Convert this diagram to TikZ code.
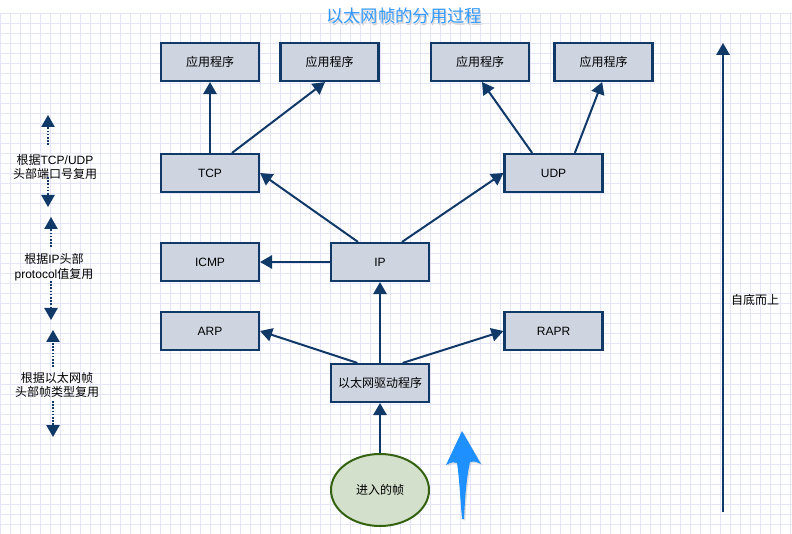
\documentclass[tikz,border=0pt]{standalone}
\usepackage{fontspec}
\setmainfont{Liberation Sans}
\newfontfamily\cjk{Noto Sans CJK SC}
\usetikzlibrary{arrows.meta,shadows,shapes.geometric}
\definecolor{boxline}{RGB}{16,57,104}
\definecolor{boxfill}{RGB}{206,213,224}
\definecolor{gridline}{RGB}{228,228,248}
\definecolor{framefill}{RGB}{211,224,203}
\definecolor{frameline}{RGB}{52,98,16}
\definecolor{titleblue}{RGB}{51,153,255}
\definecolor{bigblue}{RGB}{30,144,255}

\begin{document}
\begin{tikzpicture}[x=0.75pt,y=-0.75pt,
    layer/.style={draw=boxline,fill=boxfill,line width=1.6pt,minimum width=73.5pt,
      minimum height=28.5pt,inner sep=0pt,font=\fontsize{9}{11}\selectfont},
    up/.style={draw=boxline,line width=1.5pt,-{Triangle[width=10pt,length=9pt]}},
    hint/.style={draw=boxline,line width=1.2pt,dash pattern=on 1.2pt off 1.2pt,
      -{Triangle[width=10pt,length=9pt]}},
    note/.style={font=\fontsize{9}{11}\selectfont,align=center,inner sep=1pt}]
    \useasboundingbox (0,0) rectangle (792,534);
    \fill[white] (0,0) rectangle (792,534);

    % background grid
    \foreach \gx in {0,10,...,790}
      \draw[gridline,line width=0.75pt] (\gx,14) -- (\gx,534);
    \foreach \gy in {14,24,...,534}
      \draw[gridline,line width=0.75pt] (0,\gy) -- (792,\gy);

    \node[gray!35,font=\fontsize{13}{15}\selectfont\cjk] (titleshadow) at (405,18) {以太网帧的分用过程};
    \node[titleblue,font=\fontsize{13}{15}\selectfont\cjk] (title) at (404,16) {以太网帧的分用过程};

    \node[layer] (app1) at (210,62) {\cjk 应用程序};
    \node[layer] (app2) at (329.5,62) {\cjk 应用程序};
    \node[layer] (app3) at (480,62) {\cjk 应用程序};
    \node[layer] (app4) at (603.5,62) {\cjk 应用程序};
    \node[layer] (tcp) at (210,173) {TCP};
    \node[layer] (udp) at (553.5,173) {UDP};
    \node[layer] (icmp) at (210,262) {ICMP};
    \node[layer] (ip) at (380,262) {IP};
    \node[layer] (arp) at (210,331) {ARP};
    \node[layer] (rapr) at (553.5,331) {RAPR};
    \node[layer] (drv) at (380,383) {\cjk 以太网驱动程序};
    \node[ellipse,draw=frameline,fill=framefill,line width=1.5pt,minimum width=73.5pt,
      minimum height=54pt,font=\fontsize{9}{11}\selectfont] (frame) at (380,490) {\cjk 进入的帧};

    \draw[up] (frame.north) -- (drv.south);
    \draw[up] (drv.north) -- (ip.south);
    \draw[up] ([xshift=-17pt]drv.north) -- (arp.east);
    \draw[up] ([xshift=17pt]drv.north) -- (rapr.west);
    \draw[up] (ip.west) -- (icmp.east);
    \draw[up] ([xshift=-16.5pt]ip.north) -- (tcp.east);
    \draw[up] ([xshift=16.5pt]ip.north) -- (udp.west);
    \draw[up] (tcp.north) -- (app1.south);
    \draw[up] ([xshift=16.5pt]tcp.north) -- ([xshift=-3.4pt]app2.south);
    \draw[up] ([xshift=-16pt]udp.north) -- ([xshift=1.5pt]app3.south);
    \draw[up] ([xshift=16pt]udp.north) -- ([xshift=-1pt]app4.south);

    % big blue arrow
    \fill[bigblue,drop shadow={opacity=0.25,shadow xshift=1pt,shadow yshift=-1pt}]
      (462,431) -- (481,464) .. controls (474,461) .. (470,462)
      .. controls (466,480) and (465,500) .. (464,519) -- (462,519)
      .. controls (460,495) and (459,475) .. (457,463)
      .. controls (452,462) .. (446,465) -- cycle;

    % right side
    \coordinate (risetop) at (723,43);
    \coordinate (risebot) at (723,512);
    \draw[up] (risebot) -- (risetop);
    \node[note] (rise) at (755,300) {\cjk 自底而上};

    % left side hints
    \node[note] (hintone) at (55,167) {{\cjk 根据}TCP/UDP\\{\cjk 头部端口号复用}};
    \coordinate (hintonetop) at (48,115);
    \coordinate (hintonebot) at (48,207);
    \draw[hint] (48,145) -- (hintonetop);
    \draw[hint] (48,177) -- (hintonebot);

    \node[note] (hinttwo) at (54,267) {{\cjk 根据}IP{\cjk 头部}\\protocol{\cjk 值复用}};
    \coordinate (hinttwotop) at (51,217);
    \coordinate (hinttwobot) at (51,320);
    \draw[hint] (51,247) -- (hinttwotop);
    \draw[hint] (51,281) -- (hinttwobot);

    \node[note] (hintthree) at (57,385) {{\cjk 根据以太网帧}\\{\cjk 头部帧类型复用}};
    \coordinate (hintthreetop) at (53,330);
    \coordinate (hintthreebot) at (53,437);
    \draw[hint] (53,367) -- (hintthreetop);
    \draw[hint] (53,401) -- (hintthreebot);
\end{tikzpicture}
\end{document}
